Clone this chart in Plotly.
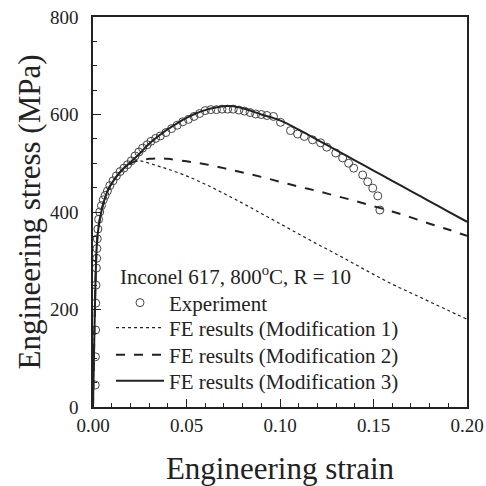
import plotly.graph_objects as go

# Experiment data (engineering strain, engineering stress MPa)
exp_strain = [0.0012, 0.0013, 0.0014, 0.0015, 0.0016, 0.0018, 0.0020, 0.0021, 0.0023, 0.0026,
              0.0030, 0.0036, 0.0045, 0.0055, 0.0065, 0.0077, 0.0090, 0.0107, 0.0125, 0.0145,
              0.0165, 0.0185, 0.0205, 0.0225, 0.0245, 0.0265, 0.0290, 0.0310, 0.0335, 0.0360,
              0.0390, 0.0420, 0.0450, 0.0480, 0.0510, 0.0540, 0.0570, 0.0600, 0.0630, 0.0660,
              0.0690, 0.0720, 0.0750, 0.0780, 0.0810, 0.0840, 0.0870, 0.0900, 0.0930, 0.0965,
              0.1003, 0.1056, 0.1094, 0.1130, 0.1174, 0.1217, 0.1250, 0.1298, 0.1335, 0.1367,
              0.1394, 0.1442, 0.1469, 0.1496, 0.1523, 0.1534]
exp_stress = [45, 103, 158, 213, 250, 285, 305, 325, 345, 365,
              385, 400, 413, 425, 434, 443, 454, 464, 474, 483,
              490, 497, 505, 515, 523, 531, 538, 545, 551, 556,
              563, 571, 578, 585, 590, 596, 602, 608, 610, 610,
              611, 611, 611, 609, 607, 604, 601, 600, 598, 596,
              584, 567, 560, 555, 548, 542, 533, 521, 511, 500,
              490, 476, 462, 449, 433, 404]

# FE results, Modification 1 (dotted)
m1_strain = [0.0, 0.001, 0.002, 0.003, 0.005, 0.008, 0.012, 0.016, 0.020, 0.022, 0.025, 0.030,
             0.035, 0.040, 0.050, 0.060, 0.070, 0.080, 0.090, 0.100, 0.110, 0.120, 0.130,
             0.140, 0.150, 0.160, 0.170, 0.180, 0.190, 0.200]
m1_stress = [0, 200, 330, 370, 410, 445, 470, 488, 499, 503, 505, 500,
             494, 488, 474, 457, 438, 418, 397, 376, 355, 334, 314,
             293, 272, 252, 234, 216, 198, 180]

# FE results, Modification 2 (dashed)
m2_strain = [0.0, 0.001, 0.002, 0.003, 0.005, 0.008, 0.012, 0.016, 0.020, 0.025, 0.030, 0.035,
             0.040, 0.050, 0.060, 0.070, 0.080, 0.090, 0.100, 0.110, 0.120, 0.130, 0.140,
             0.150, 0.160, 0.170, 0.180, 0.190, 0.200]
m2_stress = [0, 200, 330, 370, 410, 445, 470, 488, 500, 506, 509, 510,
             509, 504, 498, 490, 481, 472, 462, 452, 443, 433, 423,
             412, 401, 389, 376, 364, 351]

# FE results, Modification 3 (solid)
m3_strain = [0.0, 0.001, 0.002, 0.003, 0.005, 0.008, 0.012, 0.016, 0.020, 0.025, 0.030, 0.035,
             0.040, 0.045, 0.050, 0.055, 0.060, 0.065, 0.070, 0.075, 0.080, 0.085, 0.090,
             0.100, 0.110, 0.120, 0.130, 0.140, 0.150, 0.160, 0.170, 0.180, 0.190, 0.200]
m3_stress = [0, 200, 330, 370, 410, 445, 470, 488, 502, 520, 540, 556,
             570, 582, 593, 602, 609, 614, 617, 617, 613, 607, 600,
             588, 569, 548, 527, 506, 485, 464, 443, 422, 401, 380]

x_tickvals = [0, 0.05, 0.10, 0.15, 0.20]
x_ticktext = ["0.00", "0.05", "0.10", "0.15", "0.20"]
y_tickvals = [0, 200, 400, 600, 800]

legend_title = "Inconel 617, 800<sup>o</sup>C, R = 10"

FONT = "Liberation Serif, Times New Roman, serif"
INK = "#222222"

W = H = 486
L, R, T, B = 93, 19, 17, 79
PW, PH = W - L - R, H - T - B


def px2x(px):
    return (px - L) / PW


def py2y(py):
    return (H - B - py) / PH


fig = go.Figure()
fig.add_trace(go.Scatter(x=exp_strain, y=exp_stress, mode="markers", name="Experiment",
                         legend="legend",
                         marker=dict(symbol="circle-open", size=8, color="#444444",
                                     line=dict(width=1, color="#444444"))))
fig.add_trace(go.Scatter(x=m1_strain, y=m1_stress, mode="lines", name="FE results (Modification 1)",
                         legend="legend2",
                         line=dict(color=INK, width=1.2, dash="dot", shape="spline")))
fig.add_trace(go.Scatter(x=m2_strain, y=m2_stress, mode="lines", name="FE results (Modification 2)",
                         legend="legend3",
                         line=dict(color=INK, width=2, dash="dash", shape="spline")))
fig.add_trace(go.Scatter(x=m3_strain, y=m3_stress, mode="lines", name="FE results (Modification 3)",
                         legend="legend4",
                         line=dict(color=INK, width=2, shape="spline")))


def leg(py):
    return dict(x=px2x(111), y=py2y(py), xanchor="left", yanchor="middle",
                bgcolor="rgba(0,0,0,0)", font=dict(family=FONT, size=21, color=INK),
                itemwidth=48)


fig.update_layout(
    width=W, height=H,
    margin=dict(l=L, r=R, t=T, b=B),
    paper_bgcolor="white", plot_bgcolor="white",
    font=dict(family=FONT, color=INK, size=19),
    showlegend=True,
    legend=leg(303), legend2=leg(328), legend3=leg(355), legend4=leg(381),
    annotations=[dict(text=legend_title, xref="paper", yref="paper",
                      x=px2x(118), y=py2y(275), xanchor="left", yanchor="middle",
                      showarrow=False, font=dict(family=FONT, size=21, color=INK))],
    xaxis=dict(
        range=[0, 0.2], tickvals=x_tickvals, ticktext=x_ticktext,
        ticks="inside", ticklen=8, tickwidth=1.2, tickcolor=INK,
        minor=dict(dtick=0.01, ticks="inside", ticklen=4, tickwidth=1, tickcolor=INK),
        showline=True, linecolor=INK, linewidth=1.5, mirror=True,
        showgrid=False, zeroline=False, automargin=False,
        ticklabelstandoff=0, ticklabeloverflow="allow",
        tickfont=dict(size=19),
        title=dict(text="Engineering strain", font=dict(size=31), standoff=24),
    ),
    yaxis=dict(
        range=[0, 800], tickvals=y_tickvals,
        ticks="inside", ticklen=8, tickwidth=1.2, tickcolor=INK,
        minor=dict(dtick=50, ticks="inside", ticklen=4, tickwidth=1, tickcolor=INK),
        showline=True, linecolor=INK, linewidth=1.5, mirror=True,
        showgrid=False, zeroline=False, automargin=False,
        ticklabelstandoff=9, ticklabeloverflow="allow",
        tickfont=dict(size=19),
        title=dict(text="Engineering stress (MPa)", font=dict(size=31), standoff=0),
    ),
)

fig.write_html(
    "out.html",
    config={"displayModeBar": False},
    post_script="document.body.style.margin='0px';document.body.style.overflow='hidden';",
)
